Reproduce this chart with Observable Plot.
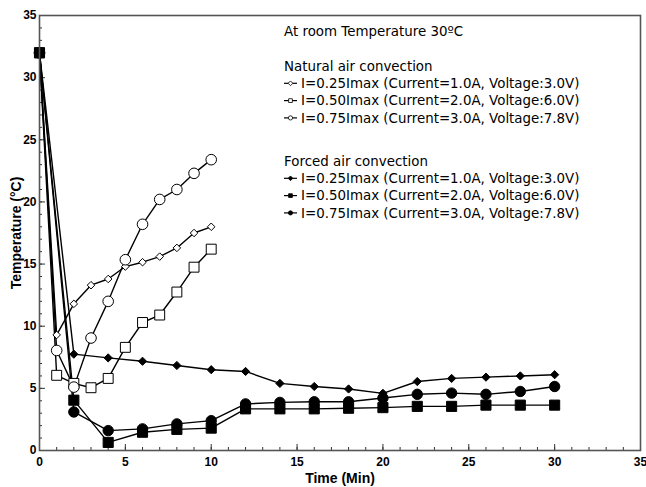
<!DOCTYPE html>
<html><head><meta charset="utf-8">
<script src="https://cdn.jsdelivr.net/npm/d3@7"></script>
<script src="https://cdn.jsdelivr.net/npm/@observablehq/plot@0.6"></script>
<style>body{margin:0;background:#fff} svg{display:block}</style>
</head><body><div id="chart"></div>
<script>
// ---- data ----
const natTime = [0,1,2,3,4,5,6,7,8,9,10];
const nat025 = [32, 9.3, 11.8, 13.3, 13.8, 14.8, 15.15, 15.6, 16.3, 17.5, 18.0];
const nat050 = [32, 6.05, 5.4, 5.05, 5.8, 8.3, 10.3, 10.9, 12.75, 14.75, 16.2];
const nat075 = [32, 8.05, 5.1, 9.05, 12.0, 15.35, 18.2, 20.2, 21.0, 22.3, 23.4];
const forTime = [0,2,4,6,8,10,12,14,16,18,20,22,24,26,28,30];
const for025 = [32, 7.75, 7.45, 7.18, 6.84, 6.5, 6.36, 5.4, 5.15, 4.95, 4.6, 5.55, 5.8, 5.9, 6.0, 6.1];
const for050 = [32, 4.05, 0.65, 1.47, 1.7, 1.8, 3.35, 3.35, 3.35, 3.4, 3.45, 3.55, 3.55, 3.65, 3.65, 3.65];
const for075 = [32, 3.1, 1.6, 1.74, 2.14, 2.4, 3.75, 3.87, 3.92, 3.92, 4.22, 4.52, 4.62, 4.52, 4.75, 5.15];
const xMajor = [0,5,10,15,20,25,30,35];
const yMajor = [0,5,10,15,20,25,30,35];
const minorTicks = d3.range(0, 36, 1);
const legendTitle = "At room Temperature 30ºC";
const groupTitles = ["Natural air convection", "Forced air convection"];
const seriesLabels = [
  "I=0.25Imax (Current=1.0A, Voltage:3.0V)",
  "I=0.50Imax (Current=2.0A, Voltage:6.0V)",
  "I=0.75Imax (Current=3.0A, Voltage:7.8V)"
];

const toRows = (t, v) => t.map((x, i) => ({x, y: v[i]}));
const series = [
  {rows: toRows(natTime, nat025), symbol: "diamond2", r: 3.4, fill: "white"},
  {rows: toRows(natTime, nat050), symbol: "square", r: 5.6, fill: "white"},
  {rows: toRows(natTime, nat075), symbol: "circle", r: 5.3, fill: "white"},
  {rows: toRows(forTime, for025), symbol: "diamond2", r: 3.7, fill: "black"},
  {rows: toRows(forTime, for075), symbol: "circle", r: 5.2, fill: "black"},
  {rows: toRows(forTime, for050), symbol: "square", r: 5.7, fill: "black"}
];

const W = 646, H = 487, mL = 39, mR = 6, mT = 15, mB = 37;
const fw = W - mL - mR, fh = H - mT - mB;

const marks = [];
marks.push(Plot.tickX(minorTicks, {x: d => d, insetTop: fh - 3, stroke: "#333", strokeWidth: 1}));
marks.push(Plot.tickX(xMajor, {x: d => d, insetTop: fh - 6, stroke: "#333", strokeWidth: 1}));
marks.push(Plot.tickY(minorTicks, {y: d => d, insetRight: fw - 3, stroke: "#333", strokeWidth: 1}));
marks.push(Plot.tickY(yMajor, {y: d => d, insetRight: fw - 6, stroke: "#333", strokeWidth: 1}));
for (const s of series) {
  marks.push(Plot.line(s.rows, {x: "x", y: "y", stroke: "black", strokeWidth: 1.4}));
}
for (const s of series) {
  marks.push(Plot.dot(s.rows, {x: "x", y: "y", symbol: () => s.symbol, r: s.r, fill: s.fill, stroke: "black", strokeWidth: 1}));
}
marks.push(Plot.frame({stroke: "#555", strokeWidth: 1.6}));
marks.push(Plot.axisX(xMajor, {tickSize: 0, tickPadding: 7, fontSize: 12, fontWeight: "bold", label: null}));
marks.push(Plot.axisY(yMajor, {tickSize: 0, tickPadding: 3, fontSize: 12, fontWeight: "bold", label: null}));
marks.push(Plot.text(["Time (Min)"], {frameAnchor: "bottom", textAnchor: "middle", dy: 32, fontSize: 14, fontWeight: "bold", fill: "black"}));
marks.push(Plot.text(["Temperature (°C)"], {frameAnchor: "left", textAnchor: "middle", dx: -23, rotate: -90, fontSize: 14, fontWeight: "bold", fill: "black"}));

const chart = Plot.plot({
  width: W, height: H,
  marginLeft: mL, marginRight: mR, marginTop: mT, marginBottom: mB,
  x: {domain: [0, 35]},
  y: {domain: [0, 35]},
  style: {fontFamily: "'Liberation Sans', Arial, sans-serif", background: "white", color: "black"},
  marks
});
document.getElementById("chart").append(chart);

// ---- legend (inside plot area) ----
const svg = d3.select(chart);
const g = svg.append("g")
  .attr("font-family", "'DejaVu Sans', Verdana, sans-serif")
  .attr("font-size", 13.4).attr("fill", "black").attr("text-anchor", "start");
const lx = 284, tx = 301;
g.append("text").attr("x", lx).attr("y", 31).attr("dy", "0.35em").text(legendTitle);
const groupY = [66, 161];
const step = 17.3;
const legSym = [["diamond2","square","circle"],["diamond2","square","circle"]];
const legFill = ["white", "black"];
groupTitles.forEach((gt, gi) => {
  g.append("text").attr("x", lx).attr("y", groupY[gi]).attr("dy", "0.35em").text(gt);
  seriesLabels.forEach((lab, i) => {
    const yy = groupY[gi] + step * (i + 1);
    g.append("line").attr("x1", lx).attr("x2", lx + 13).attr("y1", yy).attr("y2", yy).attr("stroke", "black").attr("stroke-width", 1.2);
    const sym = {diamond2: d3.symbolDiamond2, square: d3.symbolSquare, circle: d3.symbolCircle}[legSym[gi][i]];
    g.append("path").attr("d", d3.symbol(sym, 14)()).attr("transform", `translate(${lx + 6.5},${yy})`)
      .attr("fill", legFill[gi]).attr("stroke", "black").attr("stroke-width", 0.8);
    g.append("text").attr("x", tx).attr("y", yy).attr("dy", "0.35em").text(lab);
  });
});
</script></body></html>
